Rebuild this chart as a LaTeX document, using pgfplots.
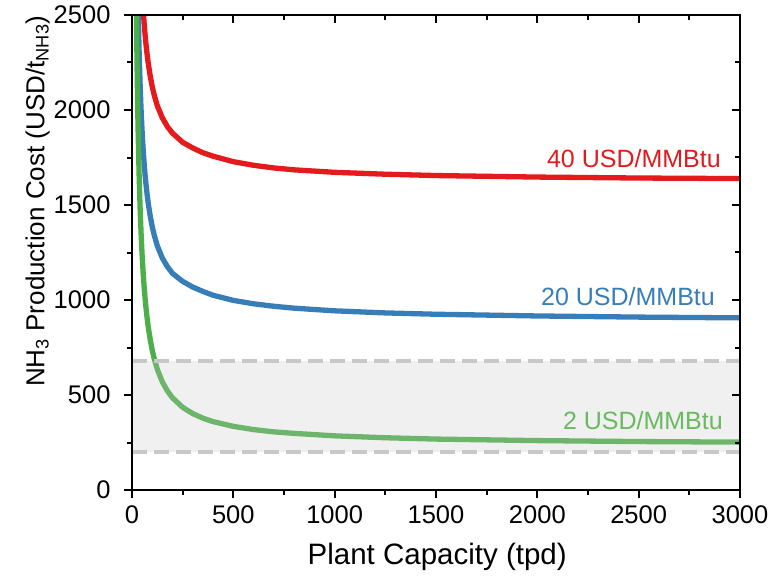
\documentclass[border=0pt]{standalone}
\usepackage{pgfplots}
\pgfplotsset{compat=1.18}
\usepackage{fontspec}
\setmainfont{Liberation Sans}
\definecolor{cred}{RGB}{228,26,28}
\definecolor{cblue}{RGB}{55,126,184}
\definecolor{cgreen}{RGB}{77,175,74}
\definecolor{cgreenlab}{RGB}{105,185,95}
\definecolor{cband}{RGB}{200,200,200}
\definecolor{cdash}{RGB}{200,200,200}
\begin{document}
\begin{tikzpicture}
\pgfplotsset{
  base/.style={
    scale only axis, width=608pt, height=475pt,
    xmin=0, xmax=3000, ymin=0, ymax=2500,
    xtick distance=500, ytick distance=500,
    minor x tick num=1, minor y tick num=1,
    major tick length=8pt, minor tick length=5pt,
    axis line style={line width=2pt},
    tick style={line width=2pt, black},
    major tick style={line width=2pt, black},
    minor tick style={line width=2pt, black},
    /pgf/number format/assume math mode=true,
    /pgf/number format/1000 sep={},
    tick label style={font=\fontsize{25.5}{30}\selectfont},
  }
}
\begin{axis}[base, name=ax,
  tick align=outside, xtick pos=bottom, ytick pos=left,
  xticklabel style={yshift=-4pt},
  yticklabel style={xshift=-10pt},
  xlabel={Plant Capacity (tpd)},
  ylabel={NH\textsubscript{3} Production Cost (USD/t\textsubscript{NH3})},
  every axis x label/.style={at={(axis description cs:0.502,-0.141)}, anchor=center, font=\fontsize{29.5}{34}\selectfont},
  every axis y label/.style={at={(axis description cs:-0.155,0.608)}, anchor=center, rotate=90, font=\fontsize{26}{30}\selectfont},
]
% red 40 USD/MMBtu
\addplot[cred, line width=5.3pt] coordinates {
(35,3051)(40,2872)(45,2733)(50,2622)(55,2531)(60,2455)(65,2391)(70,2336)(75,2289)(80,2247)(90,2178)(100,2122)(110,2077)(125,2022)(150,1958)(175,1912)(200,1878)(250,1830)(300,1800)(350,1775)(400,1757)(500,1728)(600,1709)(700,1695)(800,1685)(1000,1672)(1250,1662)(1500,1655)(2000,1647)(2500,1642)(3000,1639)};
% blue 20 USD/MMBtu
\addplot[cblue, line width=5.3pt] coordinates {
(17.5,3742)(20,3385)(22.5,3107)(25,2885)(27.5,2703)(30,2552)(35,2314)(40,2135)(45,1996)(50,1885)(55,1794)(60,1718)(65,1654)(70,1599)(75,1552)(80,1510)(90,1441)(100,1385)(110,1340)(125,1285)(150,1220)(175,1175)(200,1140)(250,1098)(300,1068)(350,1045)(400,1025)(500,998)(600,980)(700,967)(800,957)(1000,943)(1250,932)(1500,925)(2000,916)(2500,910)(3000,906)};
% green 2 USD/MMBtu
\addplot[cgreen, line width=5.3pt] coordinates {
(12,4402)(15,3568)(17.5,3092)(20,2735)(22.5,2457)(25,2235)(27.5,2053)(30,1902)(35,1664)(40,1485)(45,1346)(50,1235)(55,1144)(60,1068)(65,1004)(70,949)(75,902)(80,860)(90,791)(100,735)(110,690)(125,635)(150,568)(175,521)(200,485)(250,435)(300,402)(350,378)(400,360)(500,335)(600,318)(700,306)(800,298)(1000,285)(1250,275)(1500,268)(2000,260)(2500,255)(3000,252)};
% band
\addplot[draw=none, fill=cband, fill opacity=0.27] coordinates {(0,200)(3000,200)(3000,680)(0,680)} -- cycle;
\addplot[cdash, line width=3.5pt, dash pattern=on 15pt off 7pt] coordinates {(0,200)(3000,200)};
\addplot[cdash, line width=3.5pt, dash pattern=on 15pt off 7pt] coordinates {(0,680)(3000,680)};
\node[anchor=east, text=cred, font=\fontsize{25}{29}\selectfont, inner sep=0pt] at (axis cs:2906,1747) {40 USD/MMBtu};
\node[anchor=east, text=cblue, font=\fontsize{25}{29}\selectfont, inner sep=0pt] at (axis cs:2877,1016) {20 USD/MMBtu};
\node[anchor=east, text=cgreenlab, font=\fontsize{25}{29}\selectfont, inner sep=0pt] at (axis cs:2916,368) {2 USD/MMBtu};
\end{axis}
\begin{axis}[base,
  tick align=inside, xtick pos=top, ytick pos=right,
  xticklabels={}, yticklabels={},
]
\end{axis}
\pgfresetboundingbox
\path[use as bounding box] (ax.south west) ++(-132pt,-86pt) rectangle ++(782pt,576pt);
\end{tikzpicture}
\end{document}
